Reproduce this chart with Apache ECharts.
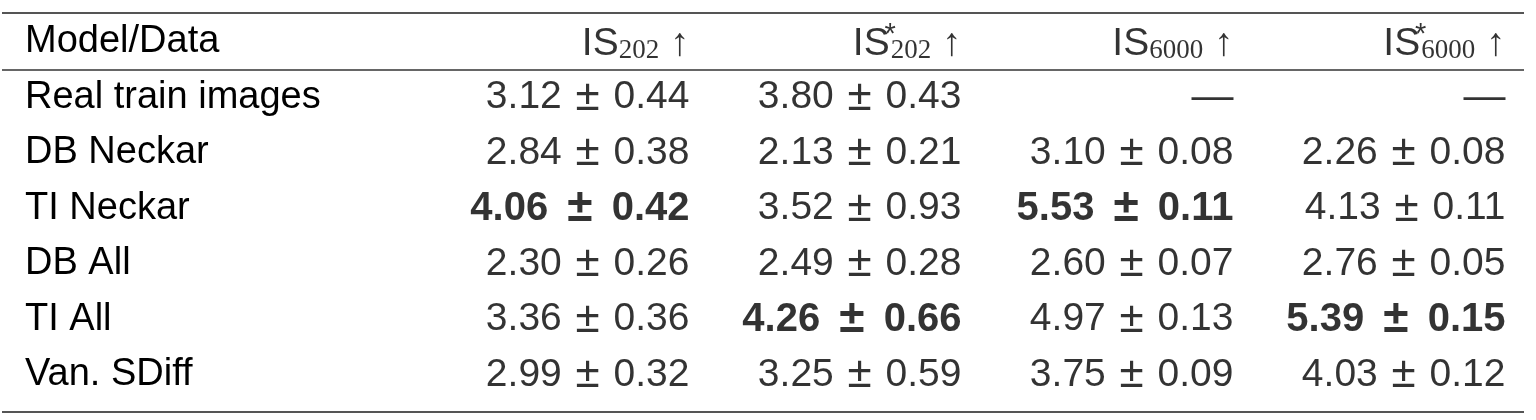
<!DOCTYPE html>
<html><head><meta charset="utf-8">
<script src="https://cdn.jsdelivr.net/npm/echarts@6/dist/echarts.min.js"></script>
<style>html,body{margin:0;padding:0;background:#fff}#c{width:1536px;height:420px}</style>
</head><body><div id="c"></div>
<script>
const headerLabel = 'Model/Data';
const models = ['Real train images','DB Neckar','TI Neckar','DB All','TI All','Van. SDiff'];
const metricKeys = ['IS202','IS202*','IS6000','IS6000*'];
const metricSub = ['202','202','6000','6000'];
const metricStar = [false,true,false,true];
const is202Mean = [3.12,2.84,4.06,2.30,3.36,2.99];
const is202Std = [0.44,0.38,0.42,0.26,0.36,0.32];
const is202sMean = [3.80,2.13,3.52,2.49,4.26,3.25];
const is202sStd = [0.43,0.21,0.93,0.28,0.66,0.59];
const is6000Mean = [null,3.10,5.53,2.60,4.97,3.75];
const is6000Std = [null,0.08,0.11,0.07,0.13,0.09];
const is6000sMean = [null,2.26,4.13,2.76,5.39,4.03];
const is6000sStd = [null,0.08,0.11,0.05,0.15,0.12];

const means = [is202Mean, is202sMean, is6000Mean, is6000sMean];
const stds = [is202Std, is202sStd, is6000Std, is6000sStd];

const FS = 39;
const FONT = "'Liberation Sans', Arial, sans-serif";
const chart = echarts.init(document.getElementById('c'), null, {renderer:'canvas'});

const data = [];
metricKeys.forEach((k, c) => {
  const txt = '{m|IS}' + (metricStar[c] ? '{sup|*}' : '') + '{sub|' + metricSub[c] + '}{m| ↑}';
  data.push({value:[c, 0], label:{formatter: txt}});
});
means.forEach((col, c) => {
  let best = -Infinity, bi = -1;
  col.forEach((v, r) => { if (r > 0 && v != null && v > best) { best = v; bi = r; } });
  col.forEach((v, r) => {
    if (v == null) {
      data.push({value:[c, r + 1], label:{formatter:'{dash|—}'}});
    } else {
      const a = v.toFixed(2), b = stds[c][r].toFixed(2);
      const s = r === bi
        ? '{b|' + a + ' }{bpm|±}{b| ' + b + '}'
        : '{n|' + a + ' }{pm|±}{n| ' + b + '}';
      data.push({value:[c, r + 1], label:{formatter: s}});
    }
  });
});

chart.setOption({
  animation: false,
  backgroundColor: '#fff',
  grid: {left: 690, right: 30, top: 42, bottom: 45},
  xAxis: {type:'category', data: metricKeys, boundaryGap:false, show:false},
  yAxis: {type:'category', data:[headerLabel, ...models], inverse:true, boundaryGap:false,
    axisLine:{show:false}, axisTick:{show:false}, splitLine:{show:false},
    axisLabel:{align:'left', margin:665, color:'#000', fontSize:38, fontFamily:FONT}},
  series: [{
    type:'scatter', symbolSize:1, itemStyle:{color:'transparent'},
    data: data,
    label:{show:true, position:'left', distance:0, color:'#000', fontSize:FS, fontFamily:FONT,
      rich:{
        m:{fontSize:FS, fontFamily:FONT, color:'#000', lineHeight:44, verticalAlign:'bottom'},
        sub:{fontSize:27, fontFamily:"'Liberation Serif', serif", color:'#000', lineHeight:24, verticalAlign:'bottom'},
        sup:{fontSize:29, fontFamily:FONT, color:'#000', lineHeight:24, verticalAlign:'top', width:1, align:'left'},
        n:{fontSize:FS, fontFamily:FONT, color:'#000'},
        pm:{fontSize:44, fontFamily:FONT, color:'#000', padding:[0,3,0,3]},
        b:{fontSize:40, fontFamily:FONT, color:'#000', fontWeight:'bold'},
        bpm:{fontSize:46, fontFamily:FONT, color:'#000', fontWeight:'bold', padding:[0,8,0,8]},
        dash:{fontSize:42, fontFamily:FONT, color:'#000'}
      }}
  }],
  graphic: [
    {type:'line', shape:{x1:2, y1:13, x2:1524, y2:13}, style:{stroke:'#555', lineWidth:2.2}},
    {type:'line', shape:{x1:2, y1:70, x2:1524, y2:70}, style:{stroke:'#333', lineWidth:1.5}},
    {type:'line', shape:{x1:2, y1:412, x2:1524, y2:412}, style:{stroke:'#555', lineWidth:2.2}}
  ]
});
</script></body></html>
